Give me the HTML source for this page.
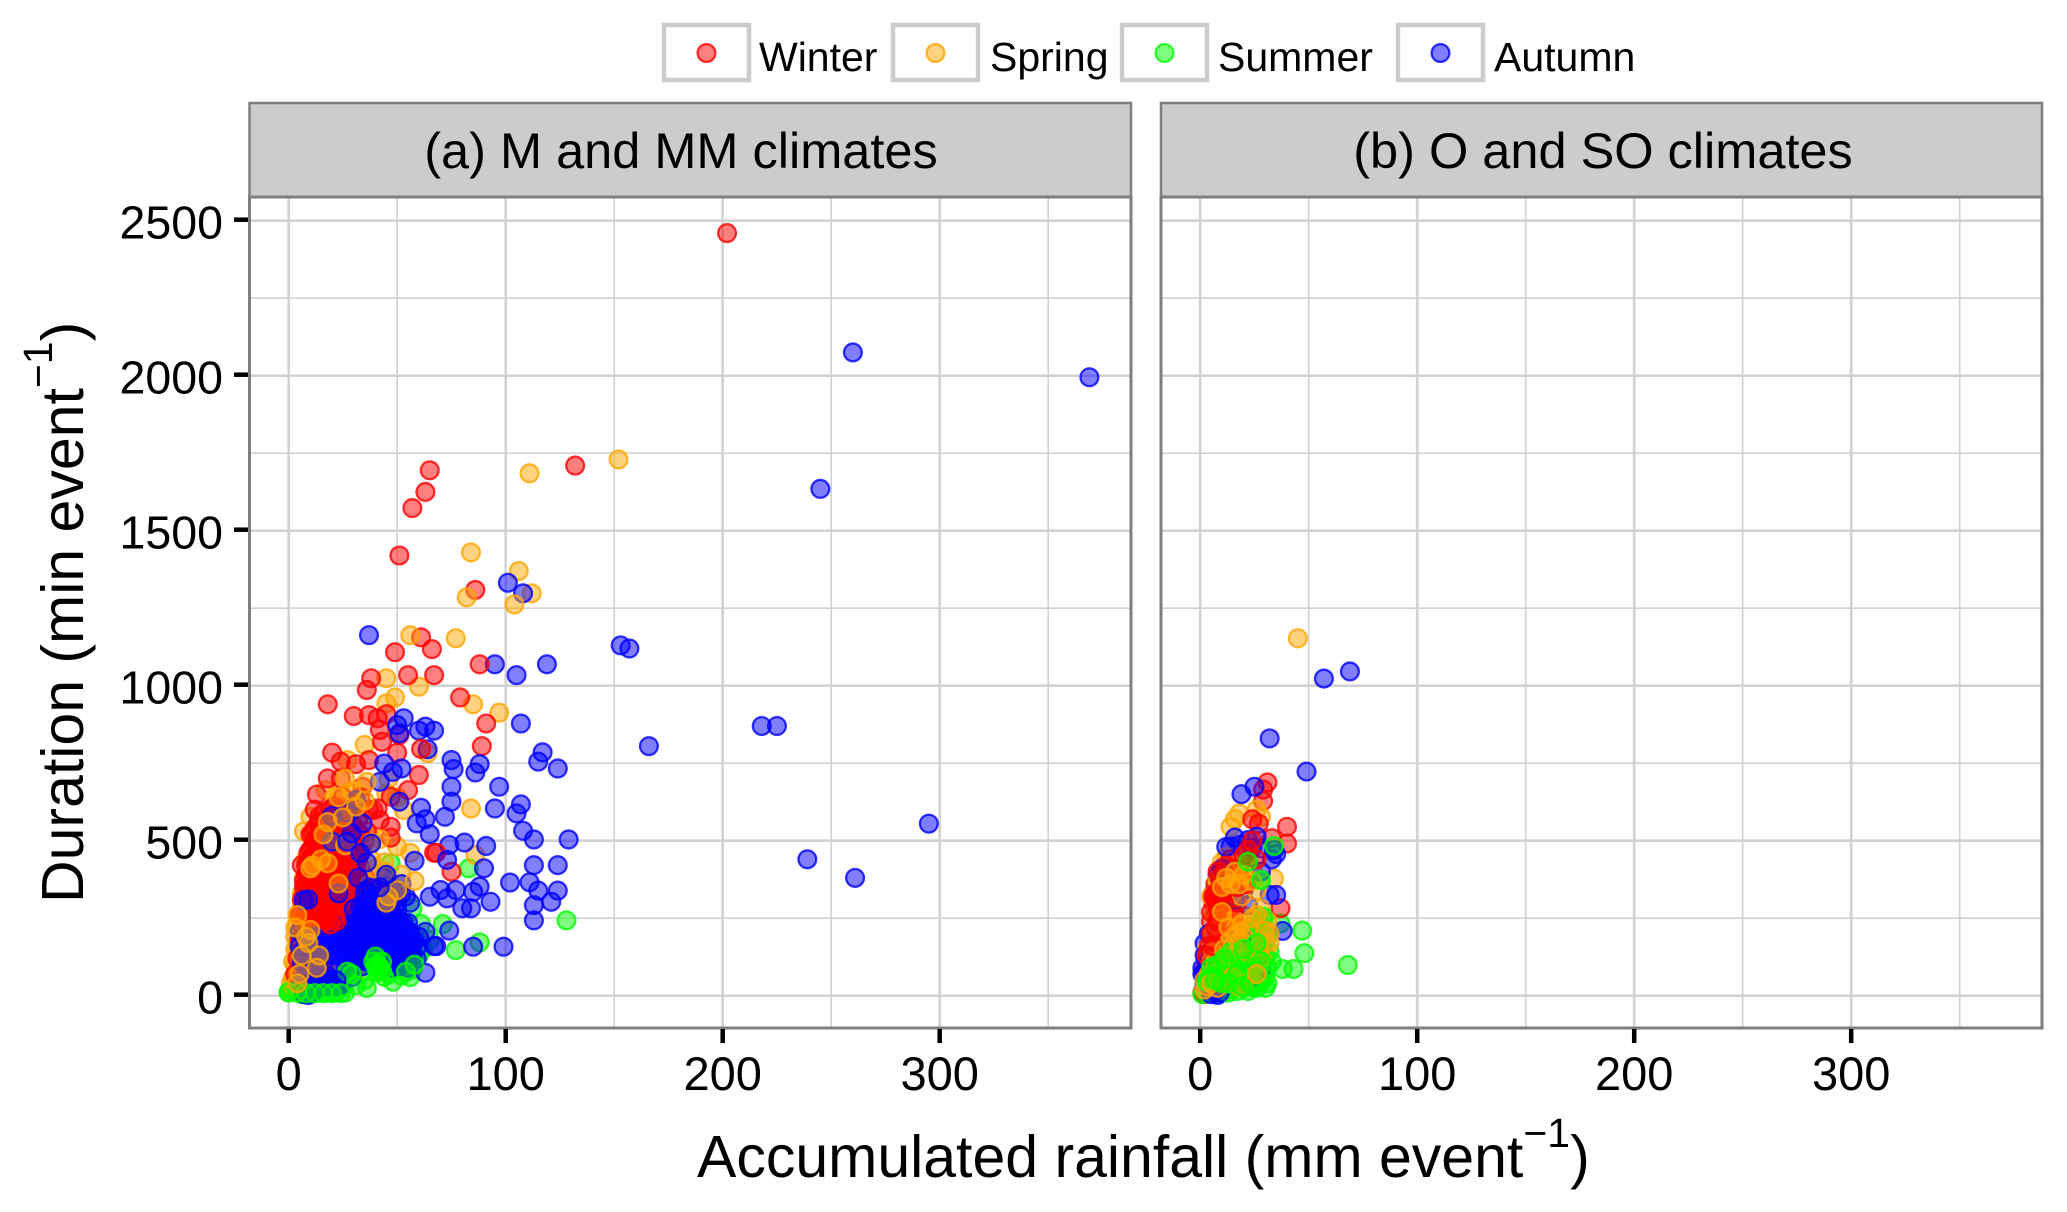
<!DOCTYPE html>
<html lang="en">
<head>
<meta charset="utf-8">
<title>Duration vs accumulated rainfall</title>
<style>
html,body{margin:0;padding:0;background:#fff;width:2067px;height:1212px;overflow:hidden}
svg{display:block}
text{font-family:"Liberation Sans",sans-serif;fill:#000}
</style>
</head>
<body>
<svg id="chart" xmlns="http://www.w3.org/2000/svg" width="2067" height="1212" viewBox="0 0 2067 1212"></svg>
<script>
const xTicks = [0, 100, 200, 300];
const xMinor = [50, 150, 250, 350];
const yTicks = [0, 500, 1000, 1500, 2000, 2500];
const yMinor = [250, 750, 1250, 1750, 2250];
const seasons = ['Winter', 'Spring', 'Summer', 'Autumn'];
const panelTitles = ['(a) M and MM climates', '(b) O and SO climates'];

const winterA = [[202,2460],[132,1710],[65,1695],[63,1625],[57,1573],[51,1420],[86,1309],[61,1156],[66,1118],[49,1108],[88,1069],[38,1024],[36,986],[55,1034],[67,1034],[79,962],[18,940],[30,902],[37,905],[41,895],[45,908],[42,857],[51,841],[43,819],[91,878],[89,805],[20,784],[50,784],[61,796],[24,755],[31,747],[37,760],[18,701],[24,701],[60,712],[13,649],[34,674],[55,663],[47,642],[41,604],[47,545],[67,461],[75,400],[11,524],[14,577],[39,599],[42,567],[47,510],[68,461],
[6,421],[8,390],[7,350],[9,430],[10,470],[12,440],[13,481],[14,400],[15,360],[9,320],[7,290],[11,300],[13,340],[16,450],[17,510],[18,470],[19,420],[20,385],[21,345],[17,300],[15,270],[12,260],[19,524],[22,490],[23,440],[24,400],[25,360],[26,320],[22,300],[20,270],[24,530],[26,470],[27,430],[28,390],[29,350],[18,545],[14,560],[16,590],[22,560],[26,545],[30,500],[31,455],[33,415],[35,385],[31,340],[34,470],[36,530],[28,590],[32,570],[37,600],[10,350],[12,380],[8,260],[6,230],[9,210],[11,170],[5,180],[13,215],[16,200],[7,140],[10,110],[4,120],[14,150],[18,130],[3,70],[5,50],[8,80],[12,70],[16,90],[20,230],[24,260],[28,280],[32,300],[36,265],[40,350],[43,310],[26,240],[30,205],[15,520],[21,610],[25,640],[30,620],[33,640],[23,600],[19,560],[12,500],[11,410],[17,390],[22,410],[27,500],[29,450],[16,330],[18,360],[24,330],[10,390],[8,340],[13,300],
[12,600],[19,600],[25,590],[29,560],[31,540],[33,520],[35,500],[10,520],[11,480],[12,540],[13,510],[14,530],[15,490],[16,540],[17,470],[18,500],[19,480],[20,540],[21,510],[22,530],[23,510],[24,470],[25,500],[26,500],[27,470],[28,510],[29,490],[30,470],[8,420],[9,460],[10,440],[11,450],[12,410],[13,440],[14,460],[15,420],[16,400],[17,430],[18,440],[19,450],[20,410],[21,430],[22,450],[23,410],[24,440],[25,420],[26,400],[27,450],[28,430],[29,420],[30,400],[31,420],[32,440],[7,370],[8,360],[9,380],[10,370],[11,350],[12,360],[13,390],[14,370],[15,340],[16,370],[17,350],[18,380],[19,340],[20,360],[21,390],[22,370],[23,350],[24,380],[25,340],[26,370],[27,350],[28,360],[6,310],[7,320],[8,310],[9,290],[10,320],[11,330],[12,310],[13,280],[14,320],[15,300],[16,310],[17,330],[18,300],[19,310],[20,320],[21,290],[22,330],[23,310],[24,290],[25,300],[26,290],[27,310],[5,260],[6,270],[7,250],[9,270],[10,250],[11,240],[13,250],[14,230],[15,245],[17,240],[18,265],[19,230],[21,250],[22,240]];

const springA = [[152,1730],[111,1685],[84,1430],[106,1370],[112,1298],[104,1262],[82,1285],[77,1153],[56,1163],[45,1024],[60,997],[49,962],[45,943],[85,940],[97,913],[35,809],[84,604],[50,481],[56,461],[86,454],[64,782],[10,577],[17,663],[27,760],[45,653],[53,599],[33,580],[46,700],[50,640],[7,530],
[1,20],[2,60],[2,110],[3,150],[3,190],[4,230],[5,270],[6,330],[7,380],[8,440],[12,260],[14,300],[16,420],[20,470],[24,420],[30,450],[38,510],[42,505],[44,430],[46,370],[44,310],[40,300],[33,390],[29,400],[18,200],[22,120],[10,165],[7,65],[5,100],[12,40],[15,40],[20,60],[30,70],[35,280],[52,390],[48,330],[17,480],[13,190],[9,240],[25,610],[36,690],[31,660],[26,700],[21,640],[28,540],[6,150],[4,80],[11,90],[16,110],[38,440],[41,370],[23,330],[20,170],[1,40],[2,30],[3,40],[4,60],
[3,100],[4,140],[5,210],[6,280],[4,170],[5,150],[6,230],[7,250],[7,180],[8,120],[9,60],[15,450],[19,510],[23,520],[26,380],[12,350],[9,300],[11,210],[6,40]];

const summerA = [[128,243],[88,172],[77,147],[83,411],[71,231],[61,231],[57,282],[47,427],[31,411],[37,368],[20,255],[18,240],[0,10],[2,15],[4,20],[6,5],[8,25],[10,12],[12,15],[15,10],[18,10],[22,12],[26,10],[30,85],[33,70],[6,60],[8,55],[38,110],[45,95],[46,70],[60,130],[62,150],[56,60],[52,65],[57,85],[1,20],[3,25],[5,25],[14,40],[10,75],[35,50],[48,45],[25,30],[36,25],[58,150],[50,180],[33,200],[28,300],[65,180]];

const autumnA = [[260,2075],[369,1995],[245,1635],[101,1332],[108,1298],[37,1163],[153,1130],[157,1120],[95,1069],[119,1069],[105,1034],[107,878],[218,870],[225,870],[166,805],[117,785],[115,755],[124,733],[295,555],[129,504],[239,440],[261,380],[53,895],[63,868],[60,855],[67,855],[50,873],[64,795],[51,846],[75,760],[76,731],[88,747],[86,720],[75,674],[97,674],[75,626],[107,617],[95,604],[105,588],[61,606],[72,577],[63,569],[59,556],[108,532],[113,504],[65,521],[74,486],[81,494],[91,483],[44,749],[52,733],[48,722],[42,690],[51,626],
[73,438],[58,435],[90,411],[113,421],[124,421],[102,365],[111,366],[115,339],[124,339],[113,292],[121,303],[113,243],[93,303],[88,352],[85,335],[77,341],[70,341],[65,319],[73,314],[80,282],[84,282],[85,158],[99,158],[68,160],[74,210],[63,206],[63,74],[67,160],[56,300],[52,330],[48,340],[44,380],[30,340],[25,310],
[20,265],[24,240],[28,250],[32,235],[36,245],[40,255],[44,240],[48,260],[52,225],[20,220],[24,205],[28,195],[32,200],[36,205],[40,210],[44,195],[48,210],[52,190],[56,205],[19,175],[23,165],[27,155],[31,170],[35,160],[39,170],[43,155],[47,165],[51,150],[55,170],[59,155],[21,130],[25,125],[29,130],[33,120],[37,135],[41,130],[45,125],[49,115],[53,130],[57,125],[60,190],[26,100],[30,105],[34,95],[47,90],[51,95],[55,90],[23,85],[29,60],[6,40],[9,35],[12,30],[14,25],[16,35],[18,30],[20,40],[22,30],[24,35],[5,205],[10,200],[13,160],[14,110],[6,110],[9,100],[30,220],[34,180],[38,190],[42,175],[46,180],[50,170],[32,145],[36,150],[40,150],[44,140],[48,140],[52,155],[28,120],[10,300],[7,5],[9,2],[11,8],[15,310],
[20,240],[22,255],[24,225],[26,260],[27,215],[29,240],[31,255],[33,220],[34,250],[35,230],[37,260],[38,225],[39,240],[41,235],[42,220],[43,260],[45,225],[46,250],[47,230],[49,240],[50,215],[51,245],[53,235],[54,215],[55,235],[19,200],[21,185],[22,195],[23,215],[25,185],[26,170],[27,200],[29,175],[30,190],[31,150],[33,180],[34,165],[35,190],[36,175],[37,195],[38,160],[39,185],[40,195],[41,160],[42,190],[43,205],[44,170],[45,195],[46,150],[47,190],[48,175],[49,200],[50,145],[51,180],[53,170],[54,190],[55,150],[56,180],[22,140],[24,150],[26,135],[27,110],[30,150],[31,115],[32,165],[33,140],[34,115],[35,135],[36,110],[37,155],[38,125],[39,145],[40,115],[41,145],[42,120],[43,135],[44,110],[45,150],[46,105],[47,130],[48,150],[49,130],[50,105],[51,125],[52,110],[53,145],[54,120],[55,110],[56,140],[57,160],[58,175],[59,120],
[6,35],[8,45],[10,40],[6,50],[11,55],[13,50],[15,45],[17,50],[19,45],[21,50],[23,45],[25,50],[14,65],[16,60],[18,65],[12,190],[14,170],
[35,330],[38,300],[40,320],[44,300],[46,350],[48,310],[50,300],[52,360],[54,320],[38,350],[35,300],[33,290],[41,290],[47,280],[30,280],[34,270],[38,275],[44,275],[50,275]];

const summerLateA = [[40,126],[39,110],[41,100],[42,90],[43,80],[44,61],[41,75],[43,110],[40,95],[27,77],[29,70],[31,34],[54,77],[58,100],[0,12],[4,10],[8,8],[12,8],[16,8],[20,8],[24,8]];

const springLateA = [[20,497],[38,494],[10,411],[18,427],[11,420],[15,440],[23,362],[10,212],[26,485],[40,410],[44,400],[46,320],[50,340],[58,370],[45,300],[8,190],[9,170],[6,130],[14,130],[13,90],[5,70],[4,40],[3,220],[4,260],[25,575],[23,640],[31,610],[35,630],[18,560],[16,520],[29,660]];

const autumnLateA = [[20,497],[7,308],[9,310],[23,330],[8,160],[6,140],[10,130],[15,150],[17,130],[5,160],[11,30],[14,40],[22,50],[31,631],[20,580],[27,591],[34,556],[29,524],[27,497],[38,491],[32,380],[36,430],[33,460],[42,350],[45,390],[36,340]];

const summerB = [[68,99],[47,210],[48,137],[38,86],[43,86],[37,233],[28,373],[22,432],[12,249],[14,50],[29,244],[32,142],[31,40],[1,5],[2,20],[3,10],[4,30],[5,15],[6,25],[7,10],[8,35],[9,20],[10,10],[11,40],[12,20],[13,10],[14,30],[15,20],[16,40],[17,15],[18,35],[19,60],[20,25],[21,45],[22,15],[23,60],[24,30],[25,70],[26,25],[27,50],[28,40],[29,70],[30,25],[31,90],[26,100],[22,110],[27,130],[29,160],[31,190],[25,160],[28,190],[24,210],[26,230],[29,255],[22,180],[19,140],[17,100],[15,80],[12,70],[9,60],[6,60],[4,55],[3,45],[5,90],[8,100],[11,120],[14,140],[24,130],[20,90],[23,100],[30,120],[33,110],[27,230],
[16,60],[18,80],[20,150],[22,60],[24,90],[25,40],[26,170],[27,70],[28,110],[30,60],[23,40],[19,30],[17,70],[13,40],[10,40],[7,50]];

const winterB = [[31,688],[29,665],[29,628],[40,545],[40,491],[33,508],[24,569],[27,555],[37,282],[2,5],[4,20],[1,10],
[6,300],[7,270],[5,240],[6,330],[7,360],[8,300],[9,340],[10,400],[11,370],[12,330],[13,410],[14,440],[9,260],[10,210],[11,170],[6,190],[7,140],[5,130],[3,110],[12,250],[14,290],[16,350],[18,410],[20,450],[22,470],[24,500],[17,300],[8,400],[10,230],[15,210],[13,180],[16,260],[19,370],[21,360],[26,440],
[5,270],[6,320],[7,310],[7,330],[8,330],[9,320],[8,280],[5,200],[4,160],[3,130],[6,160],[7,220],[8,240],[10,320],[11,300],[9,380],[12,420],[15,380],[17,350]];

const springB = [[45,1153],[14,545],[18,588],[16,570],[28,577],[26,600],[34,378],[7,206],[17,386],[12,303],[21,255],[17,147],[3,24],[12,448],[10,430],[22,430],[24,410],[26,340],[28,280],[31,240],[32,170],[30,130],[25,190],[22,180],[6,260],[5,320],[8,370],[4,200],[3,150],[2,90],[9,230],[8,170],[10,130],[6,100],[14,240],[11,200],[13,270],[18,220],[20,120],[27,95],[29,215],[15,330],[19,320],[7,60],[5,60],[12,90],[2,50],[6,200],[10,250],[9,180],[16,100],
[2,20],[3,30],[4,70],[5,110],[6,140],[7,110],[8,70],[9,50],[10,90],[11,150],[12,130],[13,220],[14,100],[15,160],[16,190],[17,200],[18,170],[19,230],[20,210],[22,140],[23,220],[24,250],[26,260],[27,160],[28,120],[30,170],[30,210],[32,200],[12,40],[15,60],[18,30],[20,40],[26,70],[8,25],[5,40],[10,270],[14,360],[16,400],[20,390],[24,370],[18,360],[10,350],[12,380]];

const autumnB = [[69,1046],[57,1023],[32,830],[49,723],[25,674],[19,650],[35,457],[28,475],[32,325],[35,325],[38,209],[14,481],[18,486],[22,502],[26,513],[20,341],[22,292],[8,389],[8,150],[4,112],[18,199],[22,77],[27,99],[8,2],[2,169],[28,400],[12,480],[16,510],[24,478],[33,440],[34,470],[5,20],[7,15],[4,200],[2,130],[3,90],[1,70],[2,40],[10,410],[13,360],[12,100],[16,310],[20,60],
[2,70],[3,50],[1,90],[6,20],[9,10],[5,5],[24,60],[25,110],[28,85],[26,80],[16,180],[17,180],[19,190]];

const summerLateB = [[34,483],[22,432],[28,373]];

const winterColor = '#ff0000';
const springColor = '#ffa500';
const summerColor = '#00ff00';
const autumnColor = '#0000ff';
const seasonColors = [winterColor, springColor, summerColor, autumnColor];

const svg = document.getElementById('chart');
const NS = 'http://www.w3.org/2000/svg';
const yScale = v => 995.7 - v * 0.31;
const panelTop = 197, panelBottom = 1028;
const markerR = 8.9, markerW = 2.3;
const panels = [
  {left: 249.5, right: 1131, x0: 288.7, titleX: 681, key: 'a',
   layers: [[winterA, springA, summerA, autumnA], [summerLateA, springLateA, autumnLateA]], seasonsIdx: [[0, 1, 2, 3], [2, 1, 3]]},
  {left: 1161, right: 2042, x0: 1200.2, titleX: 1603, key: 'b',
   layers: [[summerB, winterB, springB, autumnB], [summerLateB]], seasonsIdx: [[2, 0, 1, 3], [2]]}
];
const xScale = (p, v) => p.x0 + v * 2.17;

function mk(tag, attrs, parent) {
  const el = document.createElementNS(NS, tag);
  for (const k in attrs) el.setAttribute(k, attrs[k]);
  (parent || svg).appendChild(el);
  return el;
}
function gridLine(g, x1, y1, x2, y2, major) {
  const l = mk('line', {x1, y1, x2, y2, stroke: '#d2d2d2', 'stroke-width': major ? 2.6 : 1.6}, g);
  
  
}
function tick(x1, y1, x2, y2, name) {
  const l = mk('line', {x1, y1, x2, y2, stroke: '#000', 'stroke-width': 4.5});
  
  
}

/* legend */
const legendBoxes = [662, 891, 1120, 1396];
const legendLabelX = [759, 990, 1218, 1494];
seasons.forEach((s, i) => {
  const lc = s.toLowerCase();
  const r = mk('rect', {x: legendBoxes[i] + 2, y: 25, width: 85, height: 55, fill: '#fff', stroke: '#cccccc', 'stroke-width': 4.5});
  
  
  const c = mk('circle', {cx: legendBoxes[i] + 44.5, cy: 53, r: markerR, fill: seasonColors[i], 'fill-opacity': 0.5, stroke: seasonColors[i], 'stroke-opacity': 0.8, 'stroke-width': markerW});
  
  
  const t = mk('text', {x: legendLabelX[i], y: 71, 'font-size': 41});
  t.textContent = s;
  
  
});

/* panels */
panels.forEach((p, pi) => {
  const strip = mk('rect', {x: p.left, y: 103, width: p.right - p.left, height: 94, fill: '#cccccc', stroke: '#7f7f7f', 'stroke-width': 2.5});
  
  
  const st = mk('text', {x: p.titleX, y: 168, 'font-size': 50.5, 'text-anchor': 'middle'});
  st.textContent = panelTitles[pi];
  
  

  const bg = mk('rect', {x: p.left, y: panelTop, width: p.right - p.left, height: panelBottom - panelTop, fill: '#fff'});
  
  

  const g = mk('g', {});
  
  
  yMinor.forEach(v => gridLine(g, p.left, yScale(v), p.right, yScale(v), false));
  xMinor.forEach(v => gridLine(g, xScale(p, v), panelTop, xScale(p, v), panelBottom, false));
  yTicks.forEach(v => gridLine(g, p.left, yScale(v), p.right, yScale(v), true));
  xTicks.forEach(v => gridLine(g, xScale(p, v), panelTop, xScale(p, v), panelBottom, true));

  /* points: series are interleaved so colours mix as they do in the source */
  const pts = mk('g', {});
  
  
  p.layers.forEach((layer, li) => {
    const maxLen = Math.max(...layer.map(a => a.length));
    for (let i = 0; i < maxLen; i++) {
      layer.forEach((arr, si) => {
        if (i >= arr.length) return;
        const col = p.seasonsIdx[li][si];
        const c = mk('circle', {cx: xScale(p, arr[i][0]), cy: yScale(arr[i][1]), r: markerR, fill: seasonColors[col], 'fill-opacity': 0.5, stroke: seasonColors[col], 'stroke-opacity': 0.8, 'stroke-width': markerW}, pts);
        
        
      });
    }
  });

  const border = mk('rect', {x: p.left, y: panelTop, width: p.right - p.left, height: panelBottom - panelTop, fill: 'none', stroke: '#7f7f7f', 'stroke-width': 3});
  
  

  xTicks.forEach(v => {
    tick(xScale(p, v), panelBottom + 1, xScale(p, v), panelBottom + 15, 'x-tick');
    const t = mk('text', {x: xScale(p, v), y: 1090, 'font-size': 47, 'text-anchor': 'middle'});
    t.textContent = v;
    
    
  });
});

/* y axis */
yTicks.forEach(v => {
  tick(234, yScale(v) - 1, 248, yScale(v) - 1, 'y-tick');
  const t = mk('text', {x: 223, y: yScale(v) + 18, 'font-size': 46.5, 'text-anchor': 'end'});
  t.textContent = v;
  
  
});
</script>
<svg style="position:absolute;left:0;top:0" width="2067" height="1212" viewBox="0 0 2067 1212">
  <text x="697" y="1177" font-size="59">Accumulated rainfall (mm event<tspan dy="-30" font-size="41">−1</tspan><tspan dy="30">)</tspan></text>
  <text transform="translate(83,903) rotate(-90)" x="0" y="0" font-size="59">Duration (min event<tspan dy="-31" font-size="41">−1</tspan><tspan dy="31">)</tspan></text>
</svg>
</body>
</html>
